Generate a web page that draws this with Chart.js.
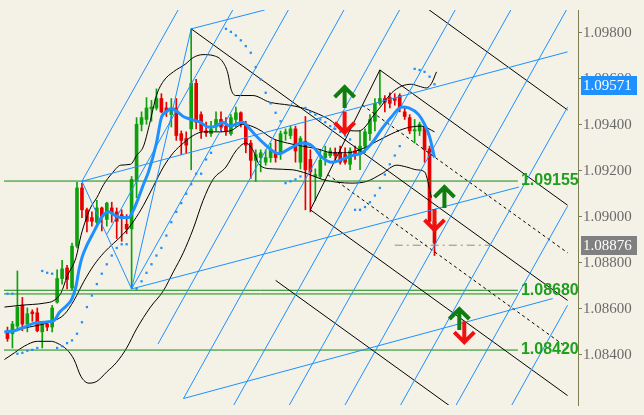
<!doctype html>
<html lang="en">
<head>
<meta charset="utf-8">
<title>EURUSD H1</title>
<style>
  * { margin: 0; padding: 0; }
  body { background: #F4F2E6; }
  .chartBox { width: 644px; height: 415px; }
</style>
</head>
<body>
<div class="chartBox"><canvas id="myChart" width="644" height="415"></canvas></div>
<script src="https://cdn.jsdelivr.net/npm/chart.js/dist/chart.umd.min.js"></script>
<script>
// candles, one per bar index
const opens = [1.08504,1.08491,1.08524,1.08615,1.08533,1.08586,1.08582,1.08499,1.08533,1.08520,
1.08628,1.08731,1.08777,1.08690,1.08872,1.09125,1.09030,1.08996,1.08976,1.09038,
1.08988,1.09038,1.09021,1.09009,1.08967,1.08947,1.09154,1.09402,1.09423,1.09469,
1.09473,1.09514,1.09473,1.09444,1.09473,1.09361,1.09340,1.09382,1.09580,1.09444,
1.09373,1.09361,1.09390,1.09423,1.09394,1.09361,1.09423,1.09452,1.09402,1.09320,
1.09245,1.09257,1.09237,1.09257,1.09278,1.09278,1.09361,1.09353,1.09382,1.09237,
1.09328,1.09249,1.09175,1.09175,1.09257,1.09266,1.09278,1.09278,1.09270,1.09228,
1.09286,1.09270,1.09307,1.09361,1.09415,1.09493,1.09514,1.09518,1.09514,1.09527,
1.09456,1.09431,1.09373,1.09373,1.09390,1.09295,1.08980];
const highs = [1.08520,1.08545,1.08764,1.08649,1.08603,1.08595,1.08603,1.08541,1.08541,1.08615,
1.08769,1.08810,1.08789,1.08885,1.09150,1.09146,1.09038,1.09021,1.09071,1.09042,
1.09063,1.09063,1.09038,1.09030,1.09009,1.09175,1.09431,1.09456,1.09518,1.09506,
1.09556,1.09535,1.09498,1.09514,1.09514,1.09373,1.09369,1.09817,1.09597,1.09456,
1.09411,1.09415,1.09456,1.09456,1.09431,1.09444,1.09477,1.09456,1.09415,1.09332,
1.09291,1.09291,1.09291,1.09320,1.09332,1.09373,1.09382,1.09394,1.09394,1.09349,
1.09436,1.09291,1.09208,1.09291,1.09307,1.09299,1.09299,1.09307,1.09299,1.09299,
1.09307,1.09373,1.09382,1.09444,1.09514,1.09638,1.09527,1.09539,1.09535,1.09535,
1.09473,1.09444,1.09423,1.09411,1.09394,1.09307,1.09009];
const lows = [1.08458,1.08429,1.08504,1.08504,1.08499,1.08545,1.08499,1.08429,1.08504,1.08499,
1.08624,1.08707,1.08686,1.08682,1.08864,1.08996,1.08934,1.08959,1.08955,1.08938,
1.08959,1.08976,1.08905,1.08893,1.08926,1.08686,1.09083,1.09373,1.09402,1.09415,
1.09464,1.09452,1.09436,1.09390,1.09332,1.09270,1.09278,1.09204,1.09382,1.09340,
1.09349,1.09349,1.09373,1.09369,1.09353,1.09353,1.09390,1.09390,1.09278,1.09166,
1.09154,1.09195,1.09224,1.09237,1.09237,1.09249,1.09332,1.09340,1.09237,1.09208,
1.09030,1.09021,1.09071,1.09166,1.09224,1.09257,1.09237,1.09228,1.09228,1.09204,
1.09249,1.09204,1.09278,1.09332,1.09373,1.09485,1.09456,1.09473,1.09485,1.09456,
1.09423,1.09361,1.09320,1.09353,1.09237,1.08967,1.08831];
const closes = [1.08470,1.08533,1.08607,1.08533,1.08578,1.08578,1.08504,1.08533,1.08520,1.08603,
1.08731,1.08773,1.08727,1.08872,1.09125,1.09030,1.08980,1.08980,1.09038,1.09001,
1.09059,1.09017,1.08980,1.08996,1.08947,1.09162,1.09402,1.09431,1.09473,1.09477,
1.09514,1.09456,1.09456,1.09473,1.09353,1.09332,1.09311,1.09580,1.09411,1.09373,
1.09365,1.09382,1.09423,1.09390,1.09373,1.09431,1.09452,1.09402,1.09311,1.09245,
1.09270,1.09278,1.09257,1.09291,1.09257,1.09361,1.09369,1.09382,1.09286,1.09340,
1.09204,1.09195,1.09183,1.09245,1.09278,1.09286,1.09266,1.09237,1.09237,1.09286,
1.09270,1.09307,1.09369,1.09423,1.09493,1.09514,1.09498,1.09493,1.09506,1.09473,
1.09436,1.09373,1.09378,1.09402,1.09291,1.08980,1.08885];

// moving average, [bar, price]
const maLine = [[-0.6,1.08499],[1.4,1.08504],[3.4,1.08520],[5.4,1.08537],[7.4,1.08541],[9.4,1.08549],
[10.4,1.08582],[12,1.08615],[13,1.08644],[13.8,1.08698],[14.4,1.08769],[15,1.08822],[16,1.08876],
[17,1.08918],[18.4,1.08976],[19.4,1.09009],[20.4,1.09021],[21.4,1.09009],[22.8,1.08996],[24.4,1.08996],
[25.4,1.09030],[26.4,1.09083],[27.4,1.09141],[28.4,1.09195],[30,1.09320],[31,1.09431],[32,1.09456],
[33,1.09469],[34,1.09460],[35.4,1.09436],[37,1.09423],[38.8,1.09411],[40.4,1.09390],[42,1.09394],
[43.4,1.09411],[44.8,1.09394],[46,1.09402],[47.4,1.09411],[48.8,1.09382],[50,1.09353],[52,1.09311],
[53.4,1.09286],[54.8,1.09274],[56,1.09286],[57.4,1.09303],[59.4,1.09320],[61.4,1.09307],[63.4,1.09257],
[65.4,1.09237],[67.4,1.09249],[69.4,1.09266],[71.4,1.09278],[73.4,1.09320],[75.4,1.09382],[77.4,1.09436],
[79.4,1.09477],[80.8,1.09473],[82.8,1.09444],[84,1.09402],[85,1.09349],[86,1.09257]];

// bollinger bands
const bbUpper = [[-0.6,1.08607],[2.8,1.08615],[7.4,1.08624],[9.4,1.08636],[10.8,1.08669],[12,1.08740],
[13.8,1.08822],[14.8,1.08918],[15.8,1.08988],[16.8,1.09042],[18,1.09083],[19.4,1.09141],[21,1.09187],
[22.8,1.09224],[24.8,1.09228],[26,1.09266],[27.4,1.09307],[28.6,1.09402],[30,1.09527],[31.4,1.09589],
[33.4,1.09630],[35.8,1.09663],[37.4,1.09692],[39.4,1.09705],[41.4,1.09701],[43.4,1.09672],[44.4,1.09622],
[45,1.09556],[46,1.09527],[49.4,1.09527],[52.8,1.09498],[56.8,1.09485],[59.4,1.09473],[62,1.09452],
[64.8,1.09423],[67.4,1.09382],[70.8,1.09373],[72,1.09390],[73.4,1.09431],[75.4,1.09485],[77.4,1.09539],
[79.4,1.09568],[81.4,1.09576],[82.8,1.09568],[84.4,1.09560],[85.4,1.09580],[86.4,1.09630]];
const bbMiddle = [[-0.6,1.08499],[4.4,1.08520],[9,1.08545],[11.4,1.08574],[13.4,1.08636],[15.4,1.08719],
[17.4,1.08789],[19.4,1.08843],[21.4,1.08885],[23.4,1.08926],[25.4,1.08980],[27.4,1.09050],[29.4,1.09133],
[31.4,1.09216],[33.4,1.09278],[35.4,1.09320],[37.4,1.09353],[39.4,1.09369],[42,1.09369],[44.8,1.09373],
[47.4,1.09402],[50.4,1.09382],[53.4,1.09340],[56.4,1.09320],[59.4,1.09307],[62.4,1.09295],[65.4,1.09278],
[68.4,1.09278],[71.4,1.09295],[74.4,1.09328],[77.4,1.09361],[80.4,1.09386],[83.4,1.09394],[86,1.09369]];
const bbLower = [[-0.6,1.08379],[1.4,1.08408],[3.4,1.08437],[6,1.08458],[8.8,1.08458],[10,1.08450],
[12,1.08421],[13.4,1.08379],[14.8,1.08305],[16.4,1.08276],[18,1.08284],[20,1.08325],[22,1.08367],
[24,1.08429],[26,1.08512],[28.8,1.08607],[31.4,1.08678],[33.4,1.08760],[35.4,1.08843],[37.4,1.08947],
[39.4,1.09071],[41.4,1.09162],[44,1.09216],[46,1.09286],[48,1.09320],[49.4,1.09291],[50.8,1.09224],
[53.4,1.09208],[57.4,1.09204],[60.4,1.09187],[63.4,1.09162],[66.4,1.09150],[69.4,1.09146],[72.4,1.09154],
[75.4,1.09187],[78.4,1.09224],[80.4,1.09216],[82.4,1.09204],[84,1.09195],[85.4,1.09083]];

// parabolic sar dots
const sarDots = [[0,1.08665],[1,1.08665],
[2,1.08404],[3,1.08408],[4,1.08417],[5,1.08421],[6,1.08429],
[7,1.08764],[8,1.08756],[9,1.08752],
[10,1.08429],[11,1.08437],[12,1.08450],[13,1.08462],[14,1.08491],[15,1.08541],[16,1.08607],[17,1.08657],
[18,1.08707],[19,1.08752],[20,1.08793],[21,1.08831],[22,1.08864],[23,1.08880],[24,1.08880],
[26,1.08686],[27,1.08719],[28,1.08756],[29,1.08793],[30,1.08831],[31,1.08864],[32,1.08918],[33,1.08976],
[34,1.09021],[35,1.09059],[36,1.09100],[37,1.09141],[38,1.09187],[39,1.09187],[40,1.09249],[41,1.09278],
[44,1.09817],[45,1.09804],[46,1.09788],[47,1.09767],[48,1.09742],[49,1.09713],[50,1.09651],[51,1.09597],
[52,1.09539],[53,1.09493],[54,1.09452],[55,1.09415],
[56,1.09146],[57,1.09154],[58,1.09162],[59,1.09175],
[60,1.09473],[61,1.09456],[62,1.09444],[63,1.09423],[64,1.09411],[65,1.09394],[66,1.09382],[67,1.09369],
[68,1.09353],[69,1.09336],
[70,1.09030],[71,1.09030],[72,1.09042],[73,1.09063],[74,1.09092],[75,1.09125],[76,1.09183],[77,1.09228],
[78,1.09266],[79,1.09307],
[82,1.09643],[83,1.09638],[84,1.09630],[85,1.09609],[86,1.09576]];

// drawn objects: [bar1, price1, bar2, price2]
const fanSteep = [[15.0,1.09154,34.36,1.09899],[20.04,1.08924,45.36,1.09899],[25.0,1.08686,56.56,1.09899],
[30.3,1.08446,67.76,1.09899],[35.44,1.08209,78.96,1.09899],[43.94,1.08118,90.16,1.09899],
[55.14,1.08118,101.36,1.09899],[66.34,1.08118,112.56,1.09899],[77.54,1.08118,112.8,1.09477],
[88.74,1.08118,112.8,1.09046],[99.94,1.08118,112.8,1.08615]];
const fanFlat = [[15,1.09154,112.8,1.09717],[25,1.08686,103,1.09129],[35.44,1.08209,109.8,1.08644],
[37,1.09817,51.8,1.09899],[15,1.09154,25,1.08686],[37,1.09817,25,1.08686]];
const forkSolid = [[37,1.09817,112.8,1.08636],[75,1.09638,61,1.09030],[75,1.09638,112.8,1.09050],
[61,1.09030,112.8,1.08222],[82,1.09945,112.8,1.09464],[54,1.08723,112.8,1.07808]];
const forkDashed = [[71.5,1.09485,112.8,1.08843],[64.5,1.09183,112.8,1.08429]];

// horizontal levels
const levels = [1.09155, 1.08680, 1.08664, 1.08420];
const levelLabels = ['1.09155', '1.08680', '', '1.08420'];
const levelEnd = 102.8;
const bidLine = [78, 97.4, 1.08876];

// arrows: bar, tip price, direction
const arrowX = [67.9, 67.9, 88, 86, 91, 92];
const arrowY = [1.09568, 1.09361, 1.09133, 1.08938, 1.08603, 1.08450];
const arrowDir = ['up', 'down', 'up', 'down', 'up', 'down'];

// axis
const yTicks = [1.084, 1.086, 1.088, 1.090, 1.092, 1.094, 1.096, 1.098];
const priceTags = [1.09571, 1.08876];
const yMin = 1.08181, yMax = 1.09899;

const BG = '#F4F2E6';
const UP = '#0EA10E', DOWN = '#E80000', BLUE = '#1E90FF';

const candleColors = closes.map((c, i) => c >= opens[i] ? UP : DOWN);

function segment(s, color, dash) {
  return {
    type: 'line',
    data: [{x: s[0], y: s[1]}, {x: s[2], y: s[3]}],
    borderColor: color, borderWidth: 1, borderDash: dash || [],
    pointRadius: 0, tension: 0, order: 2
  };
}
function curve(pts, color, width) {
  return {
    type: 'line',
    data: pts.map(p => ({x: p[0], y: p[1]})),
    borderColor: color, borderWidth: width, pointRadius: 0,
    cubicInterpolationMode: 'monotone', order: 3
  };
}

const datasets = [
  {
    type: 'bar',
    data: highs.map((h, i) => ({x: i, y: [lows[i], h]})),
    backgroundColor: candleColors, barThickness: 1, grouped: false, order: 6
  },
  {
    type: 'bar',
    data: opens.map((o, i) => ({x: i, y: [o, closes[i]]})),
    backgroundColor: candleColors, barThickness: 3, grouped: false, minBarLength: 1, order: 5
  },
  curve(bbUpper, '#000', 1),
  curve(bbMiddle, '#000', 1),
  curve(bbLower, '#000', 1),
  Object.assign(curve(maLine, BLUE, 3), {order: 1}),
  {
    type: 'scatter',
    data: sarDots.map(p => ({x: p[0], y: p[1]})),
    pointStyle: 'rect', pointRadius: 1.6, borderWidth: 0,
    backgroundColor: BLUE, order: 1
  }
];
fanSteep.forEach(s => datasets.push(segment(s, BLUE)));
fanFlat.forEach(s => datasets.push(segment(s, BLUE)));
forkSolid.forEach(s => datasets.push(segment(s, '#000')));
forkDashed.forEach(s => datasets.push(segment(s, '#000', [3, 3])));
levels.forEach(v => datasets.push(segment([-1, v, levelEnd, v], '#138A13')));
datasets.push(segment([bidLine[0], bidLine[2], bidLine[1], bidLine[2]], '#8C8C8C', [8, 4, 2, 4]));

const background = {
  id: 'background',
  beforeDraw(chart) {
    const {ctx, width, height} = chart;
    ctx.save();
    ctx.fillStyle = BG;
    ctx.fillRect(0, 0, width, height);
    ctx.restore();
  }
};

const arrows = {
  id: 'arrows',
  afterDatasetsDraw(chart) {
    const {ctx, scales: {x, y}} = chart;
    ctx.save();
    ctx.lineWidth = 4;
    arrowX.forEach((bx, i) => {
      const px = x.getPixelForValue(bx), py = y.getPixelForValue(arrowY[i]);
      const s = arrowDir[i] === 'up' ? 1 : -1;
      ctx.strokeStyle = s > 0 ? '#0F7D0F' : '#F01010';
      ctx.beginPath();
      ctx.moveTo(px, py + s * 2);
      ctx.lineTo(px, py + s * 22);
      ctx.moveTo(px - 10, py + s * 11);
      ctx.lineTo(px, py + s * 1);
      ctx.lineTo(px + 10, py + s * 11);
      ctx.stroke();
    });
    ctx.restore();
  }
};

const labels = {
  id: 'labels',
  afterDraw(chart) {
    const {ctx, scales: {x, y}} = chart;
    ctx.save();
    ctx.textBaseline = 'middle';
    ctx.font = 'bold 16px "Liberation Sans", Arial, sans-serif';
    ctx.fillStyle = '#1F9E1F';
    levels.forEach((v, i) => {
      if (levelLabels[i]) ctx.fillText(levelLabels[i], x.getPixelForValue(levelEnd) + 3, y.getPixelForValue(v));
    });
    const tagColors = [BLUE, '#808080'];
    ctx.font = '15px "Liberation Serif", "Times New Roman", serif';
    priceTags.forEach((v, i) => {
      const py = Math.round(y.getPixelForValue(v));
      ctx.fillStyle = tagColors[i];
      ctx.fillRect(581, py - 9, 56, 19);
      ctx.fillStyle = '#FFFFFF';
      ctx.fillText(v.toFixed(5), 583, py + 1);
    });
    ctx.restore();
  }
};

const config = {
  type: 'line',
  data: {datasets},
  options: {
    responsive: false,
    animation: false,
    layout: {padding: 0},
    plugins: {legend: {display: false}, tooltip: {enabled: false}},
    scales: {
      x: {type: 'linear', min: -0.7, max: 114.9, offset: false, display: false},
      y: {
        type: 'linear', position: 'right', min: yMin, max: yMax,
        afterBuildTicks: s => { s.ticks = yTicks.map(v => ({value: v})); },
        afterFit: s => { s.width = 66; },
        grid: {drawOnChartArea: false, tickLength: 4, color: '#7E7E52'},
        border: {color: '#7E7E52'},
        ticks: {
          color: '#6A6A6A', padding: 1,
          font: {family: '"Liberation Serif", "Times New Roman", serif', size: 15},
          callback: v => Number(v).toFixed(5)
        }
      }
    }
  },
  plugins: [background, arrows, labels]
};

const myChart = new Chart(document.getElementById('myChart'), config);
</script>
</body>
</html>
